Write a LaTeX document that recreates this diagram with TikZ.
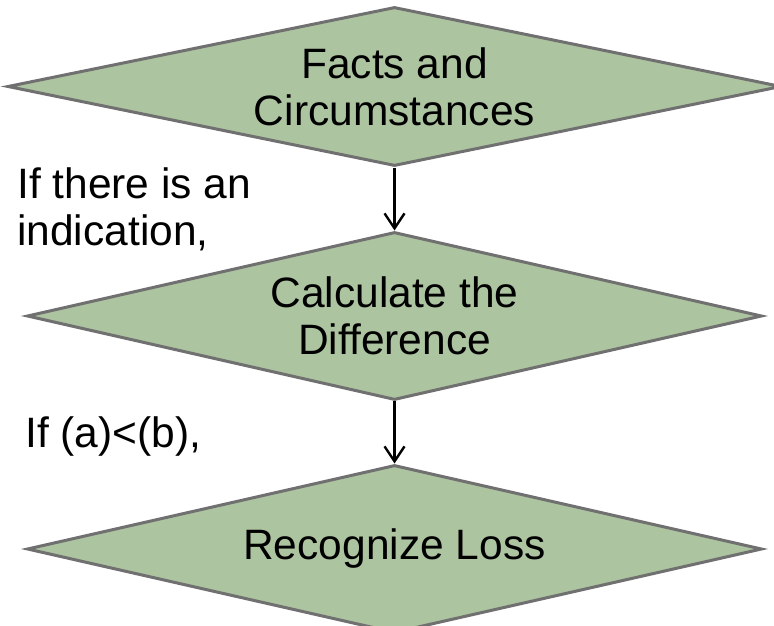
\documentclass[tikz,border=0pt]{standalone}
\usepackage{fontspec}
\setmainfont{Liberation Sans}
\usetikzlibrary{positioning,arrows.meta,shapes.geometric}
\definecolor{boxgreen}{RGB}{173,196,160}
\definecolor{boxedge}{RGB}{112,112,112}

\begin{document}
\begin{tikzpicture}[x=1pt,y=-1pt,
  dec/.style={diamond,draw=boxedge,line width=3pt,fill=boxgreen,inner sep=0pt,
    minimum width=735pt,minimum height=168pt,shape aspect=4.4,align=center,
    font=\fontsize{42.5}{47}\selectfont},
  arr/.style={-{Straight Barb[length=15pt,width=20pt]},line width=2.4pt},
  cond/.style={align=left,font=\fontsize{42.5}{47}\selectfont,inner sep=0pt},
  node distance=62pt
]
\useasboundingbox (0,0) rectangle (774,626);
\node[dec,minimum width=774pt,minimum height=159pt] (facts) at (394.5,86.5) {Facts and\\Circumstances};
\node[dec,below=63pt of facts] (calc) {Calculate the\\Difference};
\node[dec,below=of calc] (loss) {Recognize Loss};
\draw[arr] (facts) -- (calc);
\draw[arr] (calc) -- (loss);
\node[cond,anchor=base west] (ind) at (17,245) {If there is an\\indication,};
\node[cond,anchor=base west] (less) at (25,447) {If (a)<(b),};
\end{tikzpicture}
\end{document}
